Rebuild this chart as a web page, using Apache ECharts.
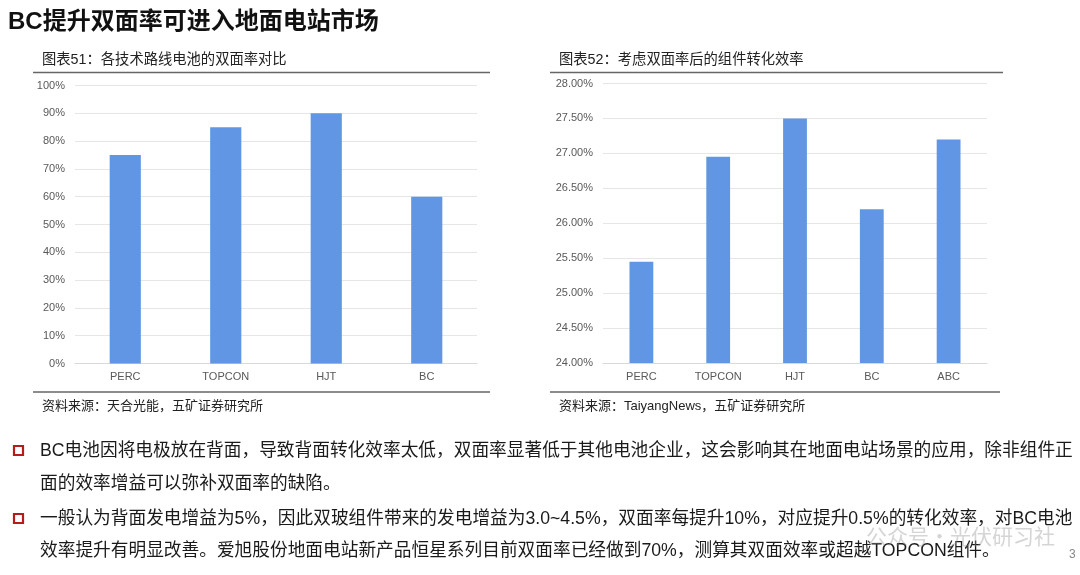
<!DOCTYPE html>
<html>
<head>
<meta charset="utf-8">
<script src="https://cdn.jsdelivr.net/npm/echarts@6/dist/echarts.min.js"></script>
<style>
html,body{margin:0;padding:0;background:#fff;}
#c{width:1080px;height:575px;}
</style>
</head>
<body>
<div id="c"></div>
<script>
const categories1 = ['PERC', 'TOPCON', 'HJT', 'BC'];
const values1 = [75, 85, 90, 60];
const categories2 = ['PERC', 'TOPCON', 'HJT', 'BC', 'ABC'];
const values2 = [25.45, 26.95, 27.5, 26.2, 27.2];

const pageTitle = 'BC提升双面率可进入地面电站市场';
const caption1 = '图表51：各技术路线电池的双面率对比';
const caption2 = '图表52：考虑双面率后的组件转化效率';
const source1 = '资料来源：天合光能，五矿证券研究所';
const source2 = '资料来源：TaiyangNews，五矿证券研究所';
const textLines = [
  'BC电池因将电极放在背面，导致背面转化效率太低，双面率显著低于其他电池企业，这会影响其在地面电站场景的应用，除非组件正',
  '面的效率增益可以弥补双面率的缺陷。',
  '一般认为背面发电增益为5%，因此双玻组件带来的发电增益为3.0~4.5%，双面率每提升10%，对应提升0.5%的转化效率，对BC电池',
  '效率提升有明显改善。爱旭股份地面电站新产品恒星系列目前双面率已经做到70%，测算其双面效率或超越TOPCON组件。'
];

const FONT = '"Liberation Sans", Arial, "Noto Sans CJK SC", sans-serif';
const BAR = '#6096E4';
const axisLabel = {color: '#595959', fontSize: 11, fontFamily: FONT};

const chart = echarts.init(document.getElementById('c'), null, {renderer: 'canvas'});

const lineY = [452, 485, 520, 552];
const textGraphics = textLines.map((t, i) => ({
  type: 'text', left: 40, top: lineY[i] - 10,
  style: {text: t, fill: '#1a1a1a', font: '17.7px ' + FONT}
}));

chart.setOption({
  backgroundColor: '#fff',
  animation: false,
  grid: [
    {left: 75, right: 1080 - 477, top: 85.5, bottom: 575 - 363.5},
    {left: 603, right: 1080 - 987, top: 83.5, bottom: 575 - 363}
  ],
  xAxis: [
    {type: 'category', gridIndex: 0, data: categories1,
     axisTick: {show: false}, axisLine: {lineStyle: {color: '#d9d9d9'}},
     axisLabel: Object.assign({margin: 8}, axisLabel)},
    {type: 'category', gridIndex: 1, data: categories2,
     axisTick: {show: false}, axisLine: {lineStyle: {color: '#d9d9d9'}},
     axisLabel: Object.assign({margin: 8}, axisLabel)}
  ],
  yAxis: [
    {type: 'value', gridIndex: 0, min: 0, max: 100, interval: 10,
     axisLine: {show: false}, axisTick: {show: false},
     splitLine: {lineStyle: {color: '#e6e6e6'}},
     axisLabel: Object.assign({margin: 10, formatter: v => v + '%'}, axisLabel)},
    {type: 'value', gridIndex: 1, min: 24, max: 28, interval: 0.5,
     axisLine: {show: false}, axisTick: {show: false},
     splitLine: {lineStyle: {color: '#e6e6e6'}},
     axisLabel: Object.assign({margin: 10, formatter: v => v.toFixed(2) + '%'}, axisLabel)}
  ],
  series: [
    {type: 'bar', xAxisIndex: 0, yAxisIndex: 0, data: values1, barWidth: '31%',
     itemStyle: {color: BAR}},
    {type: 'bar', xAxisIndex: 1, yAxisIndex: 1, data: values2, barWidth: '31%',
     itemStyle: {color: BAR}}
  ],
  graphic: [
    {type: 'text', left: 8, top: 10, style: {text: pageTitle, fill: '#111', font: 'bold 24px ' + FONT}},
    {type: 'text', left: 42, top: 53, style: {text: caption1, fill: '#222', font: '14.3px ' + FONT}},
    {type: 'text', left: 559, top: 53, style: {text: caption2, fill: '#222', font: '14.3px ' + FONT}},
    {type: 'line', shape: {x1: 33, y1: 72.5, x2: 490, y2: 72.5}, style: {stroke: '#666', lineWidth: 1.5}},
    {type: 'line', shape: {x1: 550, y1: 72.5, x2: 1003, y2: 72.5}, style: {stroke: '#666', lineWidth: 1.5}},
    {type: 'line', shape: {x1: 33, y1: 392, x2: 490, y2: 392}, style: {stroke: '#666', lineWidth: 1.5}},
    {type: 'line', shape: {x1: 550, y1: 392, x2: 1000, y2: 392}, style: {stroke: '#666', lineWidth: 1.5}},
    {type: 'text', left: 42, top: 400, style: {text: source1, fill: '#222', font: '13px ' + FONT}},
    {type: 'text', left: 559, top: 400, style: {text: source2, fill: '#222', font: '13px ' + FONT}},
    {type: 'rect', shape: {x: 14, y: 446, width: 9, height: 9}, style: {fill: '#fff', stroke: '#b71c1c', lineWidth: 2.2}},
    {type: 'rect', shape: {x: 14, y: 514, width: 9, height: 9}, style: {fill: '#fff', stroke: '#b71c1c', lineWidth: 2.2}},
    ...textGraphics,
    {type: 'text', left: 1069, top: 549, style: {text: '3', fill: '#888', font: '12px ' + FONT}},
    {type: 'text', left: 866, top: 526, z: 100, style: {text: '公众号·光伏研习社', fill: 'rgba(150,150,150,0.4)', font: '21px "Noto Sans CJK SC", sans-serif'}}
  ]
});
</script>
</body>
</html>
